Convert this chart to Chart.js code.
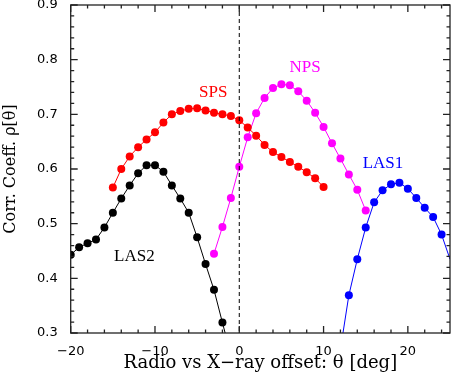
<!DOCTYPE html>
<html>
<head>
<meta charset="utf-8">
<script src="https://cdn.jsdelivr.net/npm/chart.js@4"></script>
<style>
  html, body { margin: 0; padding: 0; background: #fff; }
  #wrap { width: 454px; height: 378px; }
</style>
</head>
<body>
<div id="wrap"><canvas id="corr-chart" width="454" height="378"></canvas></div>
<script>
// offsets in degrees, one point per degree
let las2X = [-20, -19, -18, -17, -16, -15, -14, -13, -12, -11, -10, -9, -8, -7, -6, -5, -4, -3, -2, -1]
let las2Y = [0.443, 0.457, 0.464, 0.471, 0.493, 0.520, 0.546, 0.570, 0.592, 0.607, 0.607, 0.595, 0.570, 0.546, 0.520, 0.475, 0.426, 0.379, 0.319, 0.26]

let spsX = [-15, -14, -13, -12, -11, -10, -9, -8, -7, -6, -5, -4, -3, -2, -1, 0, 1, 2, 3, 4, 5, 6, 7, 8, 9, 10]
let spsY = [0.566, 0.600, 0.623, 0.640, 0.654, 0.667, 0.685, 0.700, 0.706, 0.710, 0.711, 0.707, 0.703, 0.700, 0.697, 0.689,
            0.676, 0.661, 0.644, 0.631, 0.622, 0.613, 0.604, 0.594, 0.583, 0.567]

let npsX = [-3, -2, -1, 0, 1, 2, 3, 4, 5, 6, 7, 8, 9, 10, 11, 12, 13, 14, 15]
let npsY = [0.445, 0.494, 0.547, 0.604, 0.658, 0.702, 0.730, 0.748, 0.755, 0.753, 0.742, 0.725, 0.703, 0.677, 0.647, 0.619, 0.590, 0.562, 0.524]

let las1X = [12, 13, 14, 15, 16, 17, 18, 19, 20, 21, 22, 23, 24, 25, 26]
let las1Y = [0.27, 0.369, 0.435, 0.493, 0.539, 0.561, 0.572, 0.575, 0.564, 0.547, 0.529, 0.512, 0.480, 0.435, 0.38]

let xTicks = [-20, -10, 0, 10, 20]
let yTicks = [0.3, 0.4, 0.5, 0.6, 0.7, 0.8, 0.9]

// curve labels: text, x, y, colour
let curveLabels = [
    ['LAS2', -12.45, 0.44, '#000000'],
    ['SPS', -3.1, 0.74, '#ff0000'],
    ['NPS', 7.8, 0.785, '#ff00ff'],
    ['LAS1', 17.05, 0.61, '#0000ff']
]

function pts(xs, ys) {
    return xs.map((x, i) => ({ x: x, y: ys[i] }))
}

function series(data, color) {
    return {
        data: data,
        borderColor: color,
        backgroundColor: color,
        borderWidth: 1,
        pointRadius: c => (c.raw && c.raw.x > 24.5) ? 0 : 4,
        pointBorderWidth: 0,
        pointHoverRadius: 4,
        tension: 0
    }
}

let boxPlugin = {
    id: 'box',
    afterDatasetsDraw(chart) {
        let ctx = chart.ctx
        let a = chart.chartArea
        let xs = chart.scales.x
        let ys = chart.scales.y
        ctx.save()

        // dashed line at zero offset
        let x0 = xs.getPixelForValue(0)
        ctx.strokeStyle = '#000'
        ctx.lineWidth = 1
        ctx.setLineDash([4, 3])
        ctx.beginPath()
        ctx.moveTo(x0, a.top)
        ctx.lineTo(x0, a.bottom)
        ctx.stroke()
        ctx.setLineDash([])

        // frame
        ctx.strokeStyle = '#222'
        ctx.lineWidth = 1.3
        ctx.strokeRect(a.left, a.top, a.right - a.left, a.bottom - a.top)

        // inward ticks
        ctx.beginPath()
        for (let v = -20; v <= 25; v += 2) {
            let p = xs.getPixelForValue(v)
            let len = (v % 10 === 0) ? 7 : 3.5
            ctx.moveTo(p, a.bottom); ctx.lineTo(p, a.bottom - len)
            ctx.moveTo(p, a.top); ctx.lineTo(p, a.top + len)
        }
        for (let k = 0; k <= 30; k++) {
            let v = 0.3 + k * 0.02
            let p = ys.getPixelForValue(v)
            let len = (k % 5 === 0) ? 7 : 3.5
            ctx.moveTo(a.left, p); ctx.lineTo(a.left + len, p)
            ctx.moveTo(a.right, p); ctx.lineTo(a.right - len, p)
        }
        ctx.stroke()

        // curve names
        ctx.font = '17px "Liberation Serif"'
        ctx.textAlign = 'center'
        ctx.textBaseline = 'middle'
        curveLabels.forEach(function(l) {
            ctx.fillStyle = l[3]
            ctx.fillText(l[0], xs.getPixelForValue(l[1]), ys.getPixelForValue(l[2]))
        })
        ctx.restore()
    }
}

let chart = new Chart(document.querySelector('#corr-chart'), {
    type: 'line',
    data: {
        datasets: [
            series(pts(las2X, las2Y), '#000000'),
            series(pts(spsX, spsY), '#ff0000'),
            series(pts(npsX, npsY), '#ff00ff'),
            series(pts(las1X, las1Y), '#0000ff')
        ]
    },
    options: {
        responsive: false,
        animation: false,
        events: [],
        layout: { padding: { top: 5, right: 3, left: 0, bottom: 0 } },
        plugins: { legend: { display: false }, tooltip: { enabled: false } },
        scales: {
            x: {
                type: 'linear',
                min: -20,
                max: 25,
                afterBuildTicks: s => { s.ticks = xTicks.map(v => ({ value: v })) },
                afterFit: s => { s.height = 45; s.paddingRight = 0 },
                grid: { display: false },
                border: { display: false },
                ticks: {
                    color: '#000',
                    padding: 3,
                    maxRotation: 0,
                    font: { family: 'DejaVu Sans', size: 13 },
                    callback: v => String(v).replace('-', '\u2212')
                },
                title: {
                    display: true,
                    text: 'Radio vs X\u2212ray offset: \u03b8 [deg]',
                    color: '#000',
                    padding: { top: 0, bottom: 4 },
                    font: { family: 'DejaVu Serif', size: 18 }
                }
            },
            y: {
                type: 'linear',
                min: 0.3,
                max: 0.9,
                afterBuildTicks: s => { s.ticks = yTicks.map(v => ({ value: v })) },
                afterFit: s => { s.width = 70.7; s.paddingTop = 0; s.paddingBottom = 0 },
                grid: { display: false },
                border: { display: false },
                ticks: {
                    color: '#000',
                    padding: 5,
                    font: { family: 'DejaVu Sans', size: 13 },
                    callback: v => v.toFixed(1)
                },
                title: {
                    display: true,
                    text: 'Corr. Coeff. \u03c1[\u03b8]',
                    color: '#000',
                    padding: { top: 1, bottom: 4 },
                    font: { family: 'DejaVu Serif', size: 16 }
                }
            }
        }
    },
    plugins: [boxPlugin]
})
</script>
</body>
</html>
